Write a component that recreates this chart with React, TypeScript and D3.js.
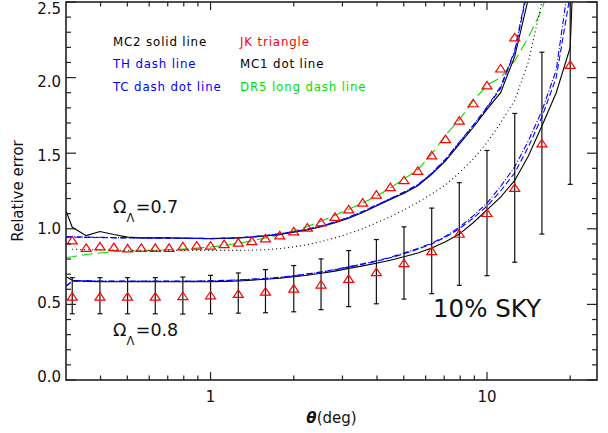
import React from "react";
import * as d3 from "d3";

// ---- data ----
const thetaLines = [0.3, 0.316, 0.355, 0.398, 0.447, 0.501, 0.562, 0.631, 0.708, 0.794, 0.891, 1.0, 1.12, 1.26, 1.41, 1.58, 1.78, 2.0, 2.24, 2.51, 2.82, 3.16, 3.55, 3.98, 4.47, 5.01, 5.62, 6.31, 7.08, 7.94, 8.91, 10.0, 11.2, 12.6, 14.1, 15.8, 17.8, 20.0, 22.4];

// Omega_Lambda = 0.7
const mc2Upper = [1.12, 1.01, 0.955, 0.982, 0.962, 0.945, 0.94, 0.94, 0.94, 0.938, 0.937, 0.935, 0.937, 0.94, 0.945, 0.953, 0.963, 0.977, 0.993, 1.013, 1.04, 1.07, 1.108, 1.15, 1.193, 1.235, 1.285, 1.36, 1.45, 1.56, 1.67, 1.79, 1.9, 2.14, 2.52, 3.2, null, null, null];
const thUpper = [0.945, 0.945, 0.943, 0.942, 0.94, 0.94, 0.939, 0.938, 0.938, 0.937, 0.936, 0.935, 0.937, 0.94, 0.946, 0.955, 0.966, 0.98, 0.997, 1.017, 1.044, 1.075, 1.113, 1.155, 1.198, 1.24, 1.29, 1.365, 1.458, 1.57, 1.68, 1.8, 1.93, 2.17, 2.6, 3.3, null, null, null];
const tcUpper = [0.948, 0.947, 0.945, 0.944, 0.942, 0.941, 0.94, 0.939, 0.938, 0.937, 0.937, 0.936, 0.938, 0.941, 0.947, 0.956, 0.967, 0.981, 0.998, 1.019, 1.046, 1.077, 1.115, 1.157, 1.2, 1.243, 1.293, 1.368, 1.46, 1.573, 1.685, 1.805, 1.94, 2.18, 2.62, 3.3, null, null, null];
const mc1Upper = [null, 0.865, 0.862, 0.86, 0.859, 0.858, 0.857, 0.857, 0.857, 0.857, 0.857, 0.857, 0.857, 0.857, 0.859, 0.862, 0.869, 0.88, 0.895, 0.915, 0.94, 0.968, 1.0, 1.04, 1.08, 1.125, 1.175, 1.23, 1.29, 1.37, 1.46, 1.57, 1.7, 1.85, 2.1, 2.5, 3.2, null, null];
const dr5Upper = [0.81, 0.815, 0.83, 0.84, 0.848, 0.852, 0.855, 0.858, 0.862, 0.866, 0.872, 0.88, 0.89, 0.905, 0.92, 0.94, 0.96, 0.985, 1.015, 1.05, 1.09, 1.13, 1.17, 1.215, 1.27, 1.33, 1.39, 1.495, 1.62, 1.72, 1.845, 1.95, 2.0, 2.11, 2.265, 2.45, 2.75, null, null];

// Omega_Lambda = 0.8
const mc2Lower = [0.683, 0.66, 0.652, 0.65, 0.65, 0.65, 0.65, 0.65, 0.65, 0.65, 0.65, 0.65, 0.652, 0.655, 0.66, 0.666, 0.673, 0.683, 0.693, 0.706, 0.72, 0.738, 0.755, 0.772, 0.792, 0.815, 0.84, 0.873, 0.915, 0.965, 1.04, 1.125, 1.21, 1.32, 1.48, 1.68, 1.9, 2.2, 4.5];
const thLower = [0.62, 0.652, 0.655, 0.653, 0.652, 0.652, 0.652, 0.652, 0.652, 0.652, 0.653, 0.655, 0.657, 0.66, 0.665, 0.67, 0.678, 0.688, 0.7, 0.713, 0.729, 0.747, 0.765, 0.785, 0.808, 0.835, 0.865, 0.9, 0.945, 1.0, 1.07, 1.15, 1.25, 1.37, 1.54, 1.74, 2.0, 2.55, 4.5];
const tcLower = [0.622, 0.655, 0.657, 0.655, 0.654, 0.654, 0.654, 0.654, 0.654, 0.654, 0.655, 0.657, 0.659, 0.662, 0.667, 0.672, 0.68, 0.69, 0.702, 0.715, 0.731, 0.749, 0.768, 0.788, 0.812, 0.84, 0.87, 0.905, 0.95, 1.01, 1.085, 1.17, 1.28, 1.41, 1.58, 1.78, 2.05, 2.7, 4.5];

// JK triangles, Omega_Lambda = 0.7
const thetaJkUpper = [0.316, 0.355, 0.398, 0.447, 0.501, 0.562, 0.631, 0.708, 0.794, 0.891, 1.0, 1.12, 1.26, 1.41, 1.58, 1.78, 2.0, 2.24, 2.51, 2.82, 3.16, 3.55, 3.98, 4.47, 5.01, 5.62, 6.31, 7.08, 7.94, 8.91, 10.0, 11.2, 12.6];
const jkUpper = [0.925, 0.876, 0.885, 0.88, 0.872, 0.876, 0.876, 0.876, 0.885, 0.89, 0.89, 0.9, 0.91, 0.92, 0.938, 0.958, 0.985, 1.01, 1.044, 1.08, 1.13, 1.175, 1.228, 1.277, 1.323, 1.385, 1.487, 1.595, 1.717, 1.832, 1.95, 2.062, 2.268];

// JK triangles with error bars, Omega_Lambda = 0.8
const thetaJkLower = [0.316, 0.398, 0.501, 0.631, 0.794, 1.0, 1.26, 1.58, 2.0, 2.51, 3.16, 3.98, 5.01, 6.31, 7.94, 10.0, 12.6, 15.8, 20.0];
const jkLower = [0.553, 0.553, 0.553, 0.553, 0.557, 0.562, 0.571, 0.586, 0.606, 0.633, 0.67, 0.715, 0.774, 0.854, 0.969, 1.106, 1.272, 1.566, 2.086];
const errLow = [0.438, 0.438, 0.438, 0.438, 0.436, 0.438, 0.442, 0.445, 0.451, 0.465, 0.485, 0.504, 0.535, 0.571, 0.626, 0.69, 0.779, 0.965, 1.294];
const errHigh = [0.677, 0.677, 0.677, 0.677, 0.681, 0.692, 0.708, 0.73, 0.757, 0.801, 0.856, 0.929, 1.013, 1.137, 1.305, 1.518, 1.763, 2.168, 2.878];

const yMajor = [0, 0.5, 1.0, 1.5, 2.0, 2.5];
const xMajor = [1, 10];
const xMinor = [0.4, 0.5, 0.6, 0.7, 0.8, 0.9, 2, 3, 4, 5, 6, 7, 8, 9, 20];

const legendLeft = [
  { text: "MC2 solid line", color: "#000" },
  { text: "TH dash line", color: "#0000ff" },
  { text: "TC dash dot line", color: "#0000ff" },
];
const legendRight = [
  { text: "JK triangle", color: "#ff0000" },
  { text: "MC1 dot line", color: "#000" },
  { text: "DR5 long dash line", color: "#00e000" },
];

export default function App() {
  const L = 66, R = 597, T = 2, B = 380;
  const x = d3.scaleLog().domain([0.3, 25]).range([L, R]);
  const y = d3.scaleLinear().domain([0, 2.5]).range([B, T]);
  // label centres sit slightly inside the frame at both ends (as in the original)
  const yLab = d3.scaleLinear().domain([0, 2.5]).range([376, 8]);
  const font = "DejaVu Sans, sans-serif";

  const line = d3
    .line<[number, number | null]>()
    .defined((d) => d[1] != null)
    .x((d) => x(d[0]))
    .y((d) => y(d[1] as number));
  const path = (vals: (number | null)[]) =>
    line(thetaLines.map((t, i) => [t, vals[i]] as [number, number | null])) || "";

  const yMinor = d3.range(0, 26).map((i) => i / 10).filter((v) => Math.abs(v * 2 - Math.round(v * 2)) > 1e-6);

  const tri = (cx: number, cy: number) => {
    const w = 5, h = 7.5;
    return `M${cx - w},${cy + h / 2}L${cx + w},${cy + h / 2}L${cx},${cy - h / 2}Z`;
  };

  const axisColor = "#222";

  return (
    <svg width={608} height={433} style={{ display: "block", position: "absolute", left: 0, top: 0 }}>
      <rect x={0} y={0} width={608} height={433} fill="#fff" />
      <defs>
        <clipPath id="plot">
          <rect x={L} y={T} width={R - L} height={B - T} />
        </clipPath>
      </defs>

      {/* lines */}
      <g clipPath="url(#plot)" fill="none">
        <path d={path(dr5Upper)} stroke="#00dd00" strokeWidth={1.1} strokeDasharray="11,5" />
        <path d={path(mc1Upper)} stroke="#000" strokeWidth={1.1} strokeDasharray="1,3" />
        <path d={path(mc2Upper)} stroke="#000" strokeWidth={1.1} />
        <path d={path(thUpper)} stroke="#0000ff" strokeWidth={1.1} strokeDasharray="6,3" />
        <path d={path(tcUpper)} stroke="#0000ff" strokeWidth={1.1} strokeDasharray="6,2,1,2" />
        <path d={path(mc2Lower)} stroke="#000" strokeWidth={1.1} />
        <path d={path(thLower)} stroke="#0000ff" strokeWidth={1.1} strokeDasharray="6,3" />
        <path d={path(tcLower)} stroke="#0000ff" strokeWidth={1.1} strokeDasharray="6,2,1,2" />

        {/* error bars */}
        {thetaJkLower.map((t, i) => {
          const cx = x(t);
          return (
            <g key={"e" + i} stroke="#111" strokeWidth={1.2}>
              <line x1={cx} x2={cx} y1={y(errLow[i])} y2={y(errHigh[i])} />
              <line x1={cx - 2.5} x2={cx + 2.5} y1={y(errLow[i])} y2={y(errLow[i])} />
              <line x1={cx - 2.5} x2={cx + 2.5} y1={y(errHigh[i])} y2={y(errHigh[i])} />
            </g>
          );
        })}

        {/* triangles */}
        {thetaJkUpper.map((t, i) => (
          <path key={"tu" + i} d={tri(x(t), y(jkUpper[i]))} stroke="#ff0000" strokeWidth={1.2} fill="none" />
        ))}
        {thetaJkLower.map((t, i) => (
          <path key={"tl" + i} d={tri(x(t), y(jkLower[i]))} stroke="#ff0000" strokeWidth={1.2} fill="none" />
        ))}
      </g>

      {/* frame */}
      <rect x={L} y={T} width={R - L} height={B - T} fill="none" stroke={axisColor} strokeWidth={1.6} />

      {/* y ticks */}
      {yMajor.map((v) => (
        <g key={"ym" + v} stroke={axisColor} strokeWidth={1.2}>
          <line x1={L} x2={L + 10} y1={y(v)} y2={y(v)} />
          <line x1={R} x2={R - 10} y1={y(v)} y2={y(v)} />
        </g>
      ))}
      {yMinor.map((v) => (
        <g key={"yn" + v} stroke={axisColor} strokeWidth={1.2}>
          <line x1={L} x2={L + 5} y1={y(v)} y2={y(v)} />
          <line x1={R} x2={R - 5} y1={y(v)} y2={y(v)} />
        </g>
      ))}
      {yMajor.map((v) => (
        <text key={"yl" + v} x={61} y={yLab(v) + 5.5} textAnchor="end" fontFamily={font} fontSize={15} fill="#111">
          {v.toFixed(1)}
        </text>
      ))}

      {/* x ticks */}
      {xMajor.map((v) => (
        <g key={"xm" + v} stroke={axisColor} strokeWidth={1.2}>
          <line x1={x(v)} x2={x(v)} y1={B} y2={B - 8} />
          <line x1={x(v)} x2={x(v)} y1={T} y2={T + 8} />
        </g>
      ))}
      {xMinor.map((v) => (
        <g key={"xn" + v} stroke={axisColor} strokeWidth={1.2}>
          <line x1={x(v)} x2={x(v)} y1={B} y2={B - 4.5} />
          <line x1={x(v)} x2={x(v)} y1={T} y2={T + 4.5} />
        </g>
      ))}
      {xMajor.map((v) => (
        <text key={"xl" + v} x={x(v)} y={402} textAnchor="middle" fontFamily={font} fontSize={15} fill="#111">
          {String(v)}
        </text>
      ))}

      {/* axis titles */}
      <text x={(L + R) / 2} y={423} textAnchor="middle" fontFamily={font} fontSize={15} fill="#111">
        <tspan fontStyle="italic" fontWeight="bold">θ</tspan>(deg)
      </text>
      <text
        transform={`translate(23, ${(T + B) / 2}) rotate(-90)`}
        textAnchor="middle"
        fontFamily={font}
        fontSize={15}
        fill="#111"
      >
        Relative error
      </text>

      {/* legend */}
      {legendLeft.map((d, i) => (
        <text key={"ll" + i} x={113} y={45.5 + i * 22.5} fontFamily={font} fontSize={11.8} letterSpacing={0.85} fill={d.color}>
          {d.text}
        </text>
      ))}
      {legendRight.map((d, i) => (
        <text key={"lr" + i} x={240} y={45.5 + i * 22.5} fontFamily={font} fontSize={11.8} letterSpacing={0.85} fill={d.color}>
          {d.text}
        </text>
      ))}

      {/* Omega labels */}
      {[
        { v: "0.7", yb: 213 },
        { v: "0.8", yb: 336 },
      ].map((o) => (
        <text key={o.v} x={113} y={o.yb} fontFamily={font} fontSize={17.5} fill="#111">
          Ω
          <tspan dy={9} fontSize={11.5}>Λ</tspan>
          <tspan dy={-9} dx={1.5}>={o.v}</tspan>
        </text>
      ))}

      <text x={433} y={317} fontFamily={font} fontSize={24.5} fill="#111">
        10% SKY
      </text>
    </svg>
  );
}
